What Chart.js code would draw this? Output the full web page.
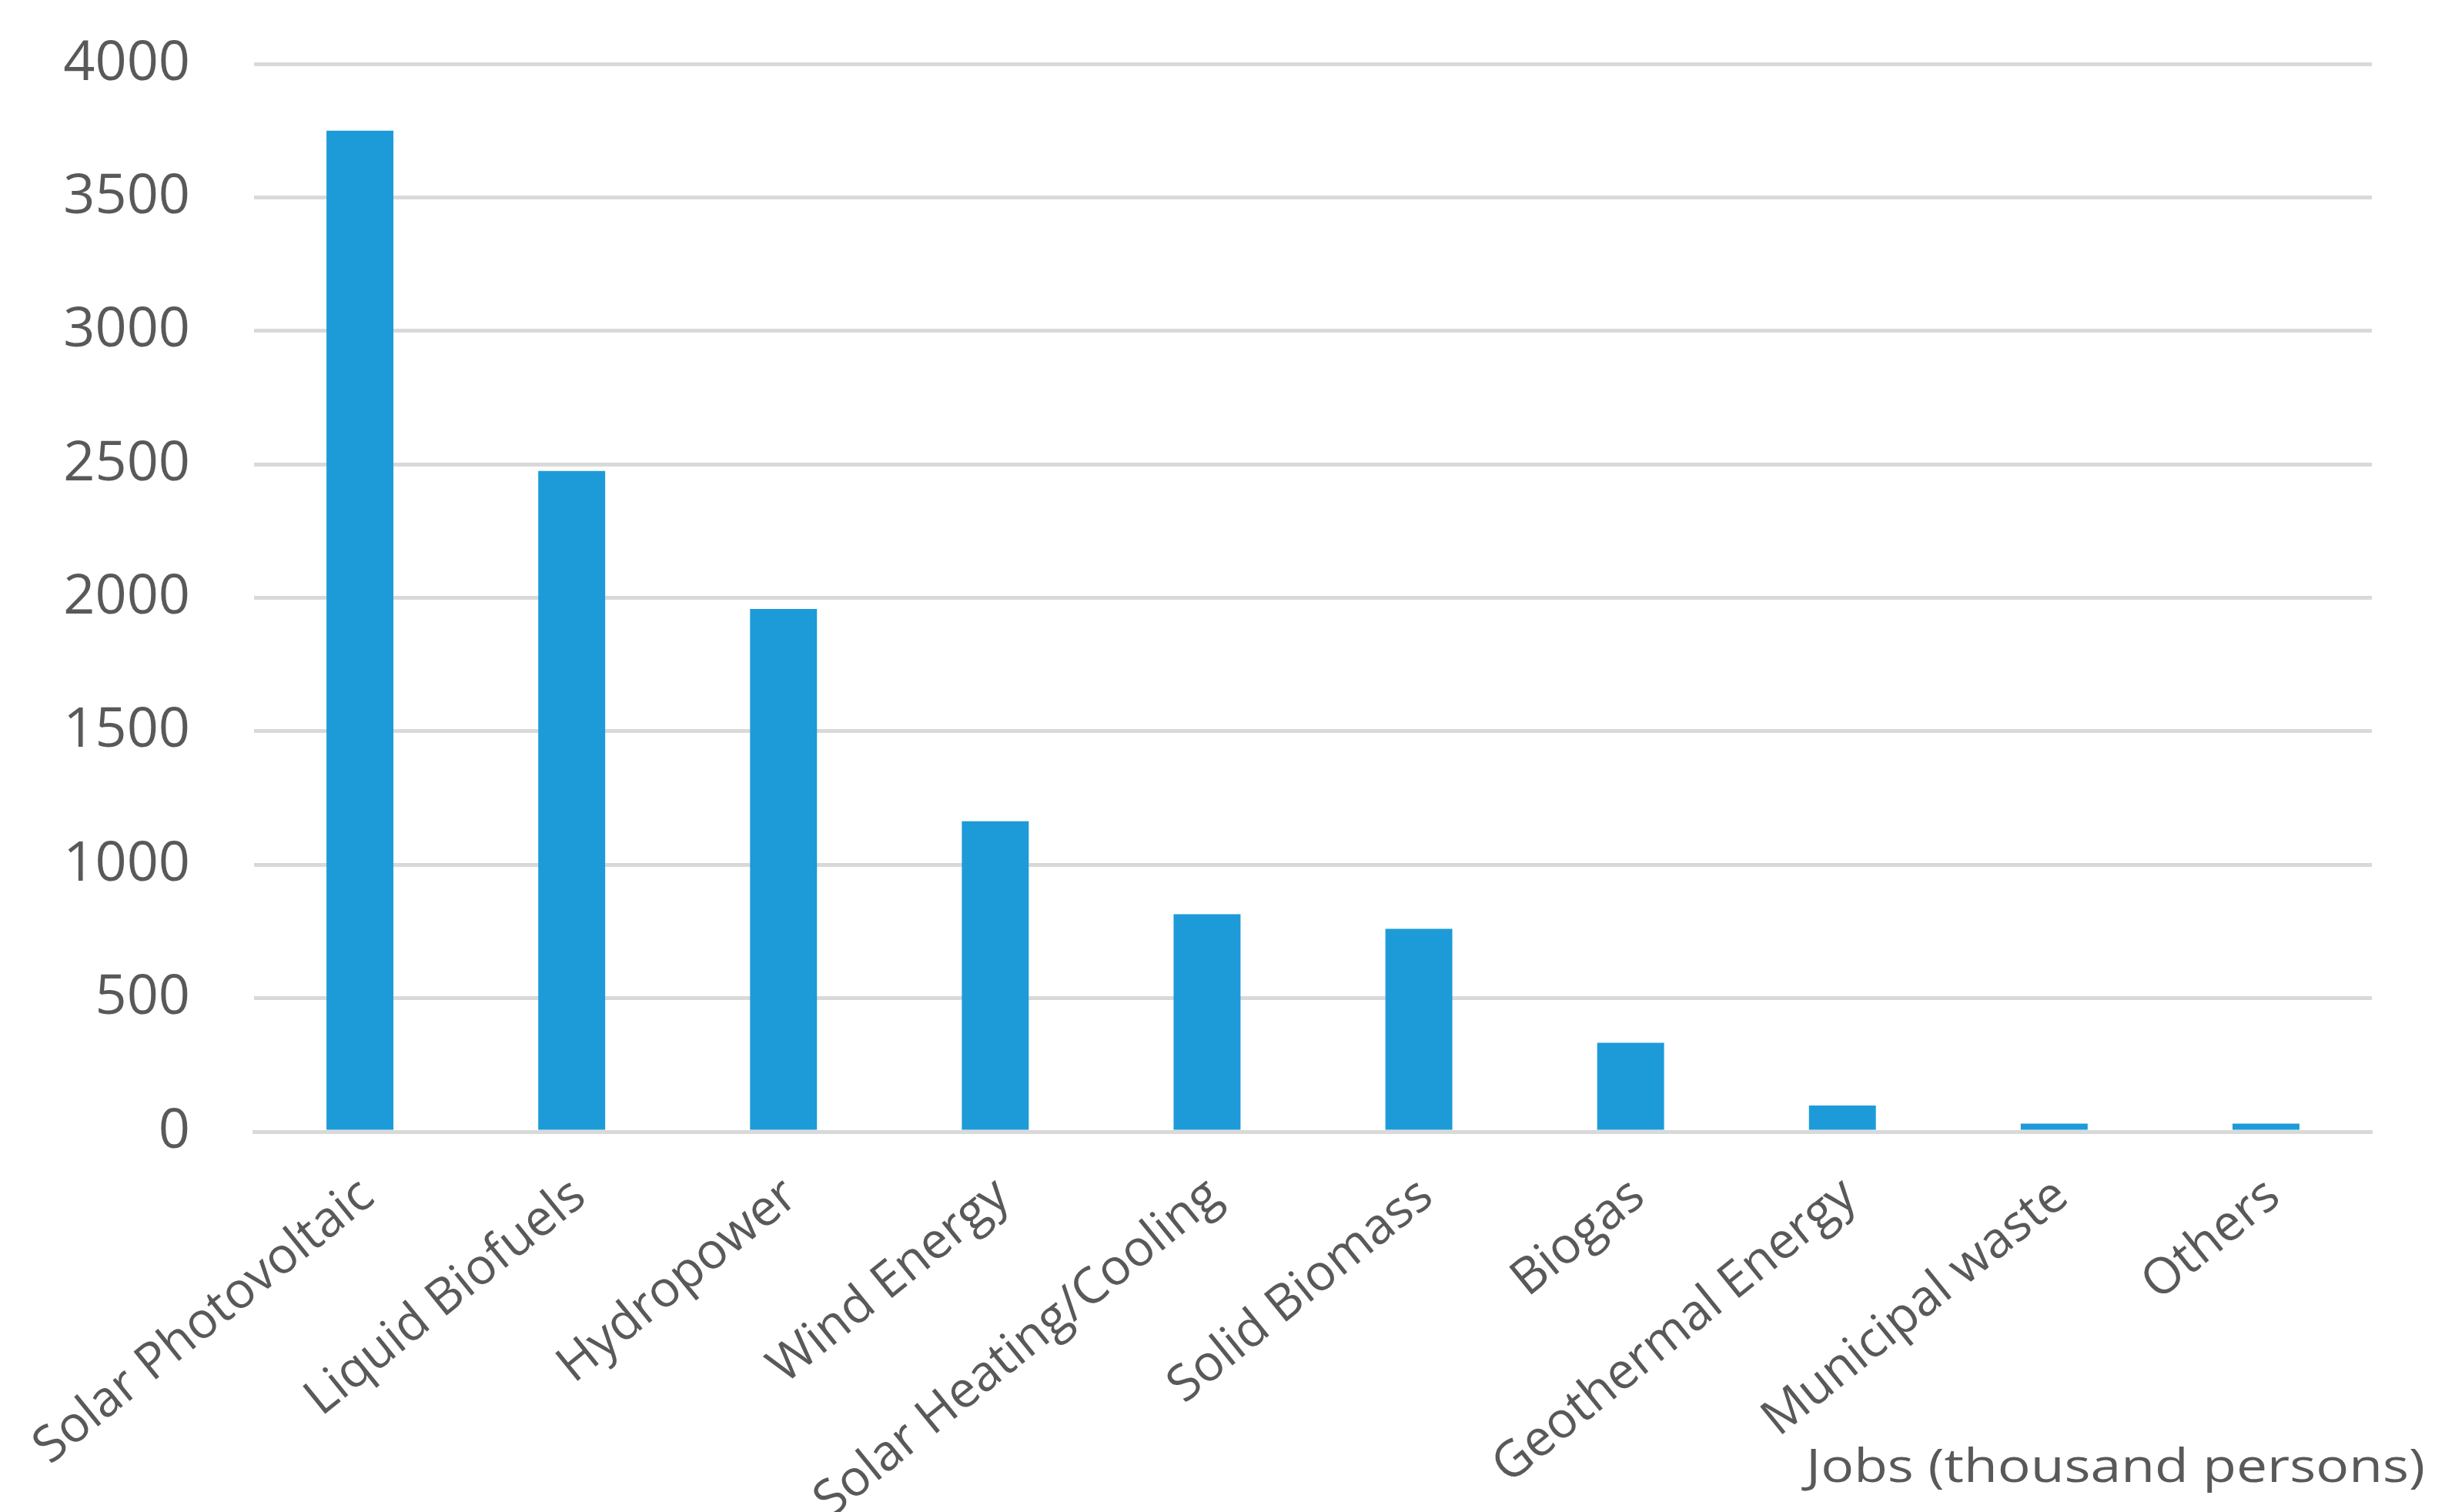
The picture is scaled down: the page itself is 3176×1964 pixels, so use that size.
<!DOCTYPE html>
<html>
<head>
<meta charset="utf-8">
<script src="https://cdn.jsdelivr.net/npm/chart.js@4"></script>
<style>
  html, body { margin: 0; padding: 0; background: #fff; }
  #wrap { width: 3176px; height: 1964px; }
</style>
</head>
<body>
<div id="wrap"><canvas id="chartCanvas" width="3176" height="1964"></canvas></div>
<script>
const categories = ['Solar Photovoltaic', 'Liquid Biofuels', 'Hydropower', 'Wind Energy',
  'Solar Heating/Cooling', 'Solid Biomass', 'Biogas', 'Geothermal Energy', 'Municipal waste', 'Others'];
const jobs = [3750, 2475, 1958, 1163, 815, 760, 333, 98, 30, 30];
const yTicks = [0, 500, 1000, 1500, 2000, 2500, 3000, 3500, 4000];
const seriesName = 'Jobs (thousand persons)';

const textGrey = '#595959';

// axis caption sits at the bottom right, past the plot edge
// (the source picture is stretched sideways, so widen the text a bit)
const captionPlugin = {
  id: 'caption',
  afterDraw(chart) {
    const ctx = chart.ctx;
    ctx.save();
    ctx.translate(3150, 1908);
    ctx.scale(1.19, 1);
    ctx.font = '60px "Open Sans"';
    ctx.fillStyle = textGrey;
    ctx.textAlign = 'right';
    ctx.textBaseline = 'middle';
    ctx.fillText(seriesName, 0, 0);
    ctx.restore();
  }
};

const ctx = document.getElementById('chartCanvas').getContext('2d');
new Chart(ctx, {
  type: 'bar',
  data: {
    labels: categories,
    datasets: [{
      label: seriesName,
      data: jobs,
      backgroundColor: '#1d9bd8',
      categoryPercentage: 1,
      barPercentage: 0.316
    }]
  },
  options: {
    responsive: false,
    animation: false,
    devicePixelRatio: 1,
    layout: { padding: { left: 0, right: 95, top: 83, bottom: 0 } },
    plugins: { legend: { display: false }, tooltip: { enabled: false } },
    scales: {
      x: {
        grid: { display: false, drawTicks: true, tickLength: 45 },
        border: { color: '#d9d9d9', width: 5 },
        ticks: {
          color: textGrey,
          font: { family: 'Open Sans', size: 65 },
          minRotation: 39,
          maxRotation: 39,
          padding: 0,
          labelOffset: 10,
          autoSkip: false
        },
        afterFit: s => { s.height = 494; s.paddingLeft = 0; s.paddingRight = 0; }
      },
      y: {
        min: 0,
        max: 4000,
        afterBuildTicks: s => { s.ticks = yTicks.map(v => ({ value: v })); },
        grid: { color: '#d9d9d9', lineWidth: 5, drawTicks: false },
        border: { display: false },
        ticks: {
          color: textGrey,
          font: { family: 'Open Sans', size: 72 },
          padding: 83,
          callback: v => String(v)
        },
        afterFit: s => { s.width = 330; s.paddingTop = 0; s.paddingBottom = 0; }
      }
    }
  },
  plugins: [captionPlugin]
});
</script>
</body>
</html>
